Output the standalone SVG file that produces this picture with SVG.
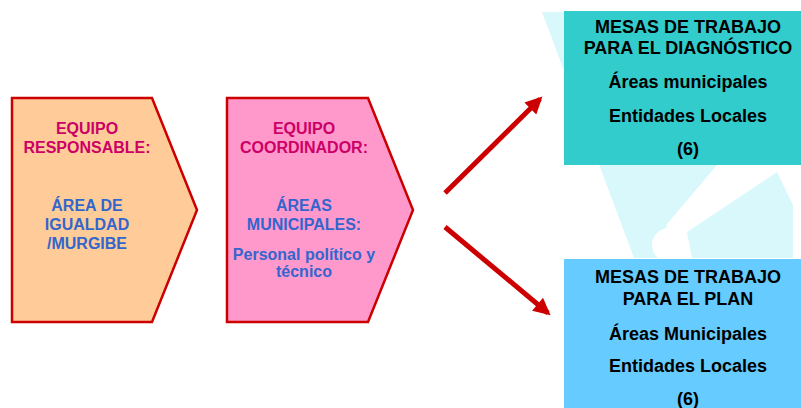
<svg xmlns="http://www.w3.org/2000/svg" width="801" height="408" viewBox="0 0 801 408">
  <style>
    text { font-family: "Liberation Sans", Arial, sans-serif; font-weight: bold; text-anchor: middle; }
    .t16 { font-size: 16px; }
    .t18 { font-size: 18px; fill: #000; }
    .title { fill: #CC0066; }
    .body { fill: #3366CC; }
    .chev { stroke: #CC0000; stroke-width: 2.5; stroke-linejoin: miter; }
    .arrow { stroke: #CC0000; stroke-width: 5; fill: none; }
    .wm { fill: #D9F8FC; }
  </style>
  <defs>
    <marker id="ah" viewBox="0 0 10 10" refX="8" refY="5" markerWidth="4" markerHeight="3.4" orient="auto" markerUnits="strokeWidth">
      <path d="M0,0 L10,5 L0,10 Z" fill="#CC0000"/>
    </marker>
  </defs>
  <rect width="801" height="408" fill="#FFFFFF"/>
  <g id="watermark">
    <polygon class="wm" points="542,12 801,12 801,160 717,165 667,224 660,258 634,258"/>
    <polygon class="wm" points="687,232 777,172 793,205 793,258 692,258"/>
    <circle cx="669" cy="245" r="17" fill="#FFFFFF"/>
  </g>
  <g id="equipo-responsable">
    <polygon class="chev" points="12,98 152,98 197,210 152,322 12,322" fill="#FFCC99"/>
    <text class="t16 title" x="87" y="134">EQUIPO</text>
    <text class="t16 title" x="87" y="153">RESPONSABLE:</text>
    <text class="t16 body" x="87" y="211">ÁREA DE</text>
    <text class="t16 body" x="87" y="230">IGUALDAD</text>
    <text class="t16 body" x="87" y="249">/MURGIBE</text>
  </g>
  <g id="equipo-coordinador">
    <polygon class="chev" points="227,98 368,98 413,210 368,322 227,322" fill="#FF99CC"/>
    <text class="t16 title" x="304" y="134">EQUIPO</text>
    <text class="t16 title" x="304" y="153">COORDINADOR:</text>
    <text class="t16 body" x="304" y="211">ÁREAS</text>
    <text class="t16 body" x="304" y="230">MUNICIPALES:</text>
    <text class="t16 body" x="304" y="260">Personal político y</text>
    <text class="t16 body" x="304" y="277">técnico</text>
  </g>
  <g id="connectors">
    <line class="arrow" x1="445" y1="193" x2="540" y2="99" marker-end="url(#ah)"/>
    <line class="arrow" x1="445" y1="227" x2="548" y2="313" marker-end="url(#ah)"/>
  </g>
  <g id="mesas-diagnostico">
    <rect x="564" y="11" width="250" height="154" fill="#33CCCC"/>
    <text class="t18" x="688" y="33">MESAS DE TRABAJO</text>
    <text class="t18" x="688" y="54">PARA EL DIAGNÓSTICO</text>
    <text class="t18" x="688" y="88">Áreas municipales</text>
    <text class="t18" x="688" y="122">Entidades Locales</text>
    <text class="t18" x="688" y="155">(6)</text>
  </g>
  <g id="mesas-plan">
    <rect x="564" y="259" width="250" height="160" fill="#66CCFF"/>
    <text class="t18" x="688" y="283">MESAS DE TRABAJO</text>
    <text class="t18" x="688" y="305">PARA EL PLAN</text>
    <text class="t18" x="688" y="340">Áreas Municipales</text>
    <text class="t18" x="688" y="372">Entidades Locales</text>
    <text class="t18" x="688" y="405">(6)</text>
  </g>
</svg>
